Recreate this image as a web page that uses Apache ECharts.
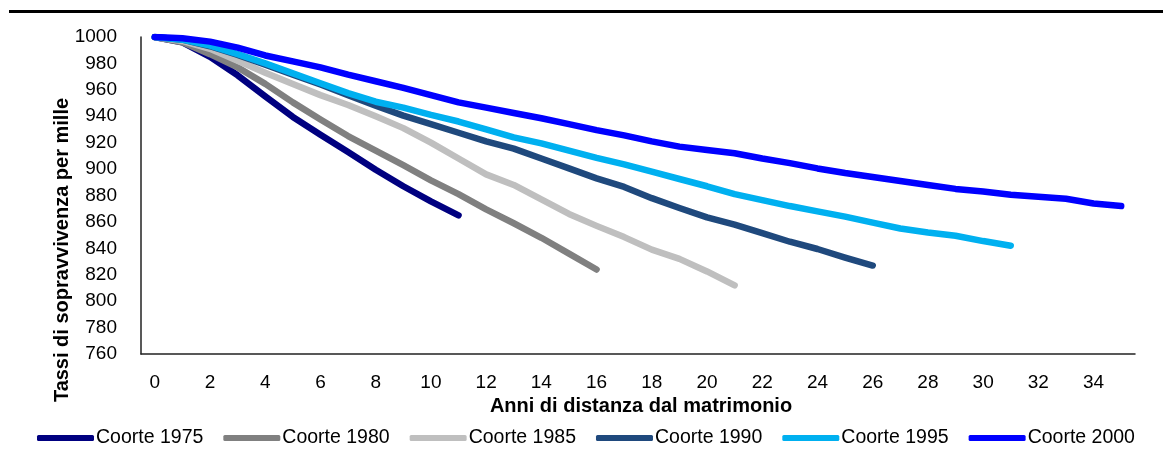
<!DOCTYPE html>
<html>
<head>
<meta charset="utf-8">
<script src="https://cdn.jsdelivr.net/npm/echarts@6/dist/echarts.min.js"></script>
<style>
html,body{margin:0;padding:0;background:#fff;}
#chart{width:1163px;height:455px;}
</style>
</head>
<body>
<div id="chart"></div>
<script>
const categories = ['0','1','2','3','4','5','6','7','8','9','10','11','12','13','14','15','16','17','18','19','20','21','22','23','24','25','26','27','28','29','30','31','32','33','34','35'];
const seriesNames = ['Coorte 1975','Coorte 1980','Coorte 1985','Coorte 1990','Coorte 1995','Coorte 2000'];
const coorte1975 = [1000, 996, 985, 971, 955, 939.5, 926, 913, 899.5, 887, 875.5, 865];
const coorte1980 = [1000, 996, 987, 977, 964.5, 950.5, 937.5, 925, 914, 903, 891.5, 881, 869.5, 859, 848, 836, 824];
const coorte1985 = [1000, 997, 991, 982, 973, 964.5, 956, 948.5, 940, 931, 920, 908, 896, 888, 877, 866, 857, 848.5, 839, 832, 822.5, 812];
const coorte1990 = [1000, 998, 993, 986.5, 979, 971.5, 964, 956, 948, 940.5, 934, 927.5, 921, 915.5, 908, 900.5, 893, 886.5, 878, 870.5, 863.5, 858, 851.5, 845, 839.5, 833, 827];
const coorte1995 = [1000, 998, 993.5, 987, 980, 972.5, 965, 957.5, 951, 946.5, 941, 936, 930, 924, 919.5, 914, 908.5, 903.5, 898, 892.5, 887, 881, 876.5, 872, 868, 864, 859.5, 855, 852, 849.5, 845.5, 842];
const coorte2000 = [1000, 999, 996.5, 992, 986, 981.5, 977, 971.5, 966.5, 961.5, 956, 950.5, 946.5, 942.5, 938.5, 934, 929.5, 925.5, 921, 917, 914.5, 912, 908, 904.5, 900.5, 897, 894, 891, 888, 885, 883, 880.5, 879, 877.5, 874, 872];
const yTicks = {min: 760, max: 1000, interval: 20};
const xTitle = 'Anni di distanza dal matrimonio';
const yTitle = 'Tassi di sopravvivenza per mille';

const colors = ['#000080', '#808080', '#BFBFBF', '#1F497D', '#00B0F0', '#0000FF'];
const allData = [coorte1975, coorte1980, coorte1985, coorte1990, coorte1995, coorte2000];
const FONT = "'Liberation Sans', Arial, sans-serif";

const chart = echarts.init(document.getElementById('chart'));
chart.setOption({
  animation: false,
  backgroundColor: '#fff',
  color: colors,
  grid: {left: 141, right: 28, top: 37, bottom: 101, containLabel: false},
  graphic: [
    {type: 'rect', shape: {x: 9, y: 10, width: 1154, height: 3}, style: {fill: '#000'}},
    {type: 'text', x: 62, y: 250, rotation: Math.PI / 2,
      style: {text: yTitle, font: "bold 20px " + FONT, fill: '#000', align: 'center', verticalAlign: 'middle'}},
    {type: 'text', x: 641, y: 406,
      style: {text: xTitle, font: "bold 20px " + FONT, fill: '#000', align: 'center', verticalAlign: 'middle'}}
  ],
  legend: {
    data: seriesNames,
    left: 37, top: 428, width: 1120, padding: 0,
    icon: 'roundRect',
    itemWidth: 57, itemHeight: 6, itemGap: 20,
    textStyle: {fontFamily: FONT, fontSize: 19.5, color: '#000', padding: [0, 0, 0, -3]}
  },
  xAxis: {
    type: 'category',
    data: categories,
    boundaryGap: true,
    axisLine: {show: true, lineStyle: {color: '#222', width: 1.5}},
    axisTick: {show: false},
    axisLabel: {interval: 1, margin: 19, fontFamily: FONT, fontSize: 19, color: '#000'},
    splitLine: {show: false}
  },
  yAxis: {
    type: 'value',
    min: yTicks.min, max: yTicks.max, interval: yTicks.interval,
    axisLine: {show: true, lineStyle: {color: '#222', width: 1.5}},
    axisTick: {show: false},
    axisLabel: {margin: 24, fontFamily: FONT, fontSize: 19, color: '#000', formatter: v => String(v)},
    splitLine: {show: false}
  },
  series: seriesNames.map((name, i) => ({
    name: name,
    type: 'line',
    data: allData[i],
    showSymbol: false,
    symbol: 'none',
    lineStyle: {width: 6.5, color: colors[i], cap: 'round', join: 'round'},
    itemStyle: {color: colors[i]}
  }))
});
</script>
</body>
</html>
